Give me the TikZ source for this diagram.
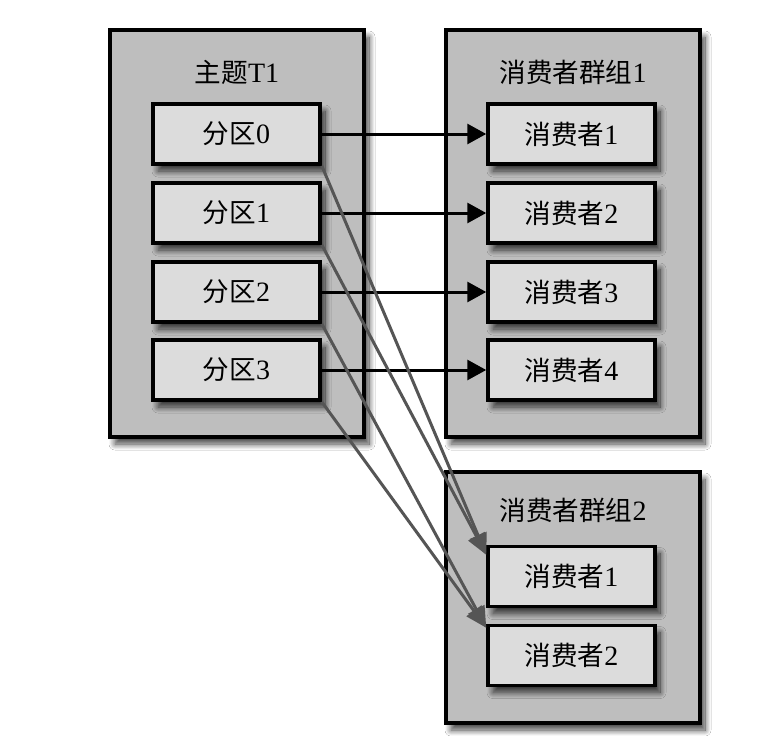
\documentclass[tikz,border=0pt]{standalone}
\usepackage{fontspec}
\setmainfont{Liberation Serif}
\newfontfamily\cjk{Noto Sans CJK SC}[Scale=0.95]
\usetikzlibrary{arrows.meta,shadows.blur}
\definecolor{outerfill}{RGB}{190,190,190}
\definecolor{innerfill}{RGB}{220,220,220}
\definecolor{grayarrow}{RGB}{85,85,85}
\tikzset{
  outerbox/.style={draw=black, line width=3.5pt, fill=outerfill, minimum width=254pt,
    blur shadow={shadow xshift=5pt, shadow yshift=-7pt, shadow blur steps=14, shadow blur radius=6pt, shadow opacity=75}},
  innerbox/.style={draw=black, line width=3.5pt, fill=innerfill, minimum width=167pt, minimum height=60pt,
    font=\fontsize{28}{32}\selectfont,
    blur shadow={shadow xshift=5pt, shadow yshift=-7pt, shadow blur steps=14, shadow blur radius=6pt, shadow opacity=75}},
  title/.style={font=\fontsize{28}{32}\selectfont},
  blackarrow/.style={line width=3pt, draw=black, -{Triangle[length=19pt,width=20pt]}},
  grayarr/.style={line width=3pt, draw=grayarrow, -{Triangle[length=21pt,width=18pt]}}
}
\begin{document}
\begin{tikzpicture}[x=1pt,y=-1pt]
\useasboundingbox (0,0) rectangle (780,736);
\fill[white] (0,0) rectangle (780,736);
% outer boxes
\node[outerbox, minimum height=407pt] (topic) at (237,233.5) {};
\node[outerbox, minimum height=407pt] (grp1) at (573,233.5) {};
\node[outerbox, minimum height=251pt] (grp2) at (573,597.5) {};
% titles
\node[title] (ttopic) at (237,72) {{\cjk 主题}T1};
\node[title] (tgrp1) at (573,72) {{\cjk 消费者群组}1};
\node[title] (tgrp2) at (573,510) {{\cjk 消费者群组}2};
% partitions
\node[innerbox] (p0) at (236.5,134) {{\cjk 分区}0};
\node[innerbox] (p1) at (236.5,213) {{\cjk 分区}1};
\node[innerbox] (p2) at (236.5,292) {{\cjk 分区}2};
\node[innerbox] (p3) at (236.5,370) {{\cjk 分区}3};
% group 1 consumers
\node[innerbox] (a1) at (571.5,134) {{\cjk 消费者}1};
\node[innerbox] (a2) at (571.5,213) {{\cjk 消费者}2};
\node[innerbox] (a3) at (571.5,292) {{\cjk 消费者}3};
\node[innerbox] (a4) at (571.5,370) {{\cjk 消费者}4};
% group 2 consumers
\node[innerbox] (b1) at (571.5,576.5) {{\cjk 消费者}1};
\node[innerbox] (b2) at (571.5,655.5) {{\cjk 消费者}2};
% black arrows
\draw[blackarrow] (p0.east) -- (a1.west);
\draw[blackarrow] (p1.east) -- (a2.west);
\draw[blackarrow] (p2.east) -- (a3.west);
\draw[blackarrow] (p3.east) -- (a4.west);
% gray arrows
\draw[grayarr] (p0.south east) -- ([yshift=-10pt]b1.north west);
\draw[grayarr] (p1.south east) -- ([yshift=-10pt]b1.north west);
\draw[grayarr] (p2.south east) -- ([yshift=-4pt]b2.north west);
\draw[grayarr] (p3.south east) -- ([yshift=-4pt]b2.north west);
\end{tikzpicture}
\end{document}
